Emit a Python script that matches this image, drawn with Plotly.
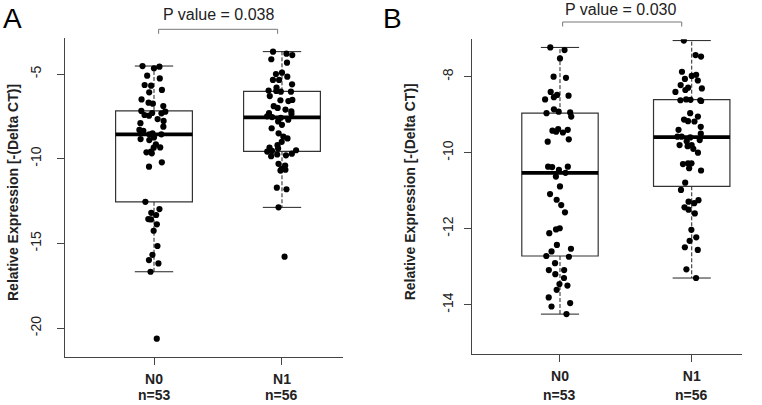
import numpy as np
import plotly.graph_objects as go

# ---------------- data ----------------
categories = ["N0", "N1"]
n_labels = ["n=53", "n=56"]
panel_letters = ["A", "B"]
p_labels = ["P value = 0.038", "P value = 0.030"]
y_title = "Relative Expression [-(Delta CT)]"

a_ticks = [-20, -15, -10, -5]
b_ticks = [-14, -12, -10, -8]

a_n0 = [-4.53, -4.57, -4.66, -5.10, -5.26, -5.65, -5.69, -5.94, -6.08, -6.50,
        -6.69, -6.75, -6.89, -7.18, -7.22, -7.30, -7.32, -7.42, -7.46, -7.66,
        -7.77, -7.90, -8.11, -8.30, -8.36, -8.50, -8.56, -8.56, -8.74, -8.84,
        -8.90, -9.15, -9.33, -9.35, -9.58, -9.62, -9.68, -10.21, -10.47, -12.54,
        -12.97, -13.19, -13.32, -13.56, -13.58, -13.87, -14.25, -15.15, -15.67, -15.98,
        -16.18, -16.67, -20.62]
a_n1 = [-3.68, -3.80, -3.88, -4.13, -4.33, -4.92, -5.00, -5.16, -5.35, -5.35,
        -5.61, -5.80, -5.98, -6.00, -6.04, -6.04, -6.30, -6.53, -6.55, -6.60,
        -6.90, -7.00, -7.10, -7.20, -7.30, -7.35, -7.50, -7.54, -7.58, -7.70,
        -7.80, -8.00, -8.20, -8.50, -8.70, -8.80, -9.00, -9.20, -9.35, -9.40,
        -9.50, -9.54, -9.58, -9.70, -9.75, -9.80, -9.85, -10.30, -10.40, -10.60,
        -10.65, -10.70, -11.71, -11.80, -12.87, -15.78]
b_n0 = [-7.23, -7.30, -7.52, -8.00, -8.03, -8.40, -8.48, -8.50, -8.54, -8.60,
        -8.86, -8.92, -8.94, -8.96, -9.05, -9.38, -9.40, -9.42, -9.45, -9.47,
        -9.65, -9.71, -10.37, -10.37, -10.38, -10.45, -10.53, -10.63, -10.89, -11.09,
        -11.24, -11.38, -11.57, -11.99, -12.02, -12.12, -12.43, -12.53, -12.60, -12.72,
        -12.74, -12.91, -13.09, -13.09, -13.20, -13.30, -13.46, -13.50, -13.61, -13.81,
        -13.96, -14.05, -14.25]
b_n1 = [-7.05, -7.43, -7.47, -7.87, -7.95, -7.98, -8.06, -8.10, -8.22, -8.29,
        -8.31, -8.35, -8.40, -8.60, -8.61, -8.62, -8.62, -8.64, -8.96, -9.05,
        -9.13, -9.17, -9.18, -9.32, -9.40, -9.50, -9.58, -9.58, -9.60, -9.67,
        -9.70, -9.80, -9.80, -9.83, -9.90, -10.00, -10.28, -10.28, -10.30, -10.41,
        -10.47, -10.79, -10.98, -11.25, -11.29, -11.33, -11.44, -11.50, -11.60, -12.03,
        -12.23, -12.32, -12.49, -12.56, -13.07, -13.30]

# ---------------- helpers ----------------
FONT = "Liberation Sans, Arial, Helvetica, sans-serif"
W, H = 762, 405


def fivenum(v):
    x = np.sort(np.asarray(v, float))
    n = len(x)
    n4 = np.floor((n + 3) / 2) / 2
    d = np.array([1, n4, (n + 1) / 2, n + 1 - n4, n]) - 1
    return 0.5 * (x[np.floor(d).astype(int)] + x[np.ceil(d).astype(int)])


def box_stats(v):
    x = np.asarray(v, float)
    _, q1, med, q3, _ = fivenum(x)
    iqr = q3 - q1
    hi = x[x <= q3 + 1.5 * iqr].max()
    lo = x[x >= q1 - 1.5 * iqr].min()
    return q1, med, q3, lo, hi


panels = [
    dict(groups=[a_n0, a_n1], ticks=a_ticks, xdom=[65.3 / W, 343.3 / W],
         ydom=[1 - 357 / H, 1 - 38 / H], xr=[0.307, 2.479], yr=[-21.70, -2.875],
         bw=0.60, ytstand=11, title_x=12.5, title_y=192.5,
         br=[1.036, 1.966], br_y=29.3, p_x=1.505, p_y=14.5),
    dict(groups=[b_n0, b_n1], ticks=b_ticks, xdom=[472 / W, 742.3 / W],
         ydom=[1 - 354 / H, 1 - 39.3 / H], xr=[0.332, 2.384], yr=[-15.30, -7.016],
         bw=0.58, ytstand=5, title_x=410.8, title_y=191.5,
         br=[1.02, 1.924], br_y=22.0, p_x=1.456, p_y=9.0),
]

fig = go.Figure()
shapes = []
annotations = []
layout = {}

for pi, p in enumerate(panels):
    sfx = "" if pi == 0 else str(pi + 1)
    xref, yref = "x" + sfx, "y" + sfx
    bw = p["bw"]
    for gi, vals in enumerate(p["groups"]):
        c = gi + 1
        q1, med, q3, lo, hi = box_stats(vals)
        # whiskers (dashed) and staples
        for a, b in [(q3, hi), (q1, lo)]:
            shapes.append(dict(type="line", xref=xref, yref=yref, x0=c, x1=c, y0=a, y1=b,
                               line=dict(color="#222", width=1, dash="4px,2px"), layer="below"))
            shapes.append(dict(type="line", xref=xref, yref=yref, x0=c - bw / 4, x1=c + bw / 4,
                               y0=b, y1=b, line=dict(color="#222", width=1), layer="below"))
        # box
        shapes.append(dict(type="rect", xref=xref, yref=yref, x0=c - bw / 2, x1=c + bw / 2,
                           y0=q1, y1=q3, fillcolor="white",
                           line=dict(color="#333", width=1.2), layer="below"))
        # median
        shapes.append(dict(type="line", xref=xref, yref=yref, x0=c - bw / 2, x1=c + bw / 2,
                           y0=med, y1=med, line=dict(color="black", width=3.8), layer="below"))
        # jittered points
        fig.add_trace(go.Box(
            y=vals, x0=c, name=categories[gi], boxpoints="all", jitter=0.45, pointpos=0,
            width=bw, line=dict(width=0), fillcolor="rgba(0,0,0,0)",
            marker=dict(color="black", size=6.2, line=dict(width=0)),
            xaxis=xref, yaxis=yref, showlegend=False, hoverinfo="y"))
        # n= labels
        annotations.append(dict(text="<b>%s</b>" % n_labels[gi], xref=xref, yref="paper",
                                x=c, y=1 - 394.5 / H, xanchor="center", yanchor="middle",
                                showarrow=False, font=dict(size=14, color="#222", family=FONT)))

    # significance bracket
    yb = 1 - p["br_y"] / H
    yl = 1 - (p["br_y"] + 4.5) / H
    bc = dict(color="#777", width=1)
    shapes.append(dict(type="line", xref=xref, yref="paper", x0=p["br"][0], x1=p["br"][1],
                       y0=yb, y1=yb, line=bc))
    for xb in p["br"]:
        shapes.append(dict(type="line", xref=xref, yref="paper", x0=xb, x1=xb,
                           y0=yb, y1=yl, line=bc))
    annotations.append(dict(text=p_labels[pi], xref=xref, yref="paper", x=p["p_x"],
                            y=1 - p["p_y"] / H, xanchor="center", yanchor="middle",
                            showarrow=False, font=dict(size=16, color="#222", family=FONT)))
    # y-axis title
    annotations.append(dict(text="<b>%s</b>" % y_title, xref="paper", yref="paper",
                            x=p["title_x"] / W, y=1 - p["title_y"] / H, textangle=-90,
                            xanchor="center", yanchor="middle", showarrow=False,
                            font=dict(size=14, color="#222", family=FONT)))

    layout["xaxis" + sfx] = dict(
        domain=p["xdom"], range=p["xr"], anchor=yref, tickvals=[1, 2],
        ticktext=["<b>%s</b>" % c for c in categories], showgrid=False, zeroline=False,
        showline=True, linecolor="#444", linewidth=1, ticks="outside", ticklen=7,
        tickcolor="#444", tickwidth=1, ticklabelstandoff=2,
        tickfont=dict(size=14, color="#222", family=FONT), fixedrange=True)
    layout["yaxis" + sfx] = dict(
        domain=p["ydom"], range=p["yr"], anchor=xref, tickvals=p["ticks"],
        ticktext=[str(t) for t in p["ticks"]], tickangle=-90, showgrid=False,
        zeroline=False, showline=True, linecolor="#444", linewidth=1, ticks="outside",
        ticklen=7, tickcolor="#444", tickwidth=1, ticklabelstandoff=p["ytstand"],
        tickfont=dict(size=14, color="#222", family=FONT), fixedrange=True)

# panel letters
annotations.append(dict(text=panel_letters[0], xref="paper", yref="paper", x=1 / W, y=1 - 1 / H,
                        xanchor="left", yanchor="top", showarrow=False,
                        font=dict(size=28, color="black", family=FONT)))
annotations.append(dict(text=panel_letters[1], xref="paper", yref="paper", x=381 / W, y=1 - 1 / H,
                        xanchor="left", yanchor="top", showarrow=False,
                        font=dict(size=28, color="black", family=FONT)))

fig.update_layout(
    width=W, height=H, margin=dict(l=0, r=0, t=0, b=0),
    paper_bgcolor="white", plot_bgcolor="white", showlegend=False,
    font=dict(family=FONT, color="#222"), shapes=shapes, annotations=annotations,
    boxmode="overlay", **layout)

fig.write_html("out.html", config={"displayModeBar": False},
               post_script="document.body.style.margin='0';document.body.style.padding='0';")
